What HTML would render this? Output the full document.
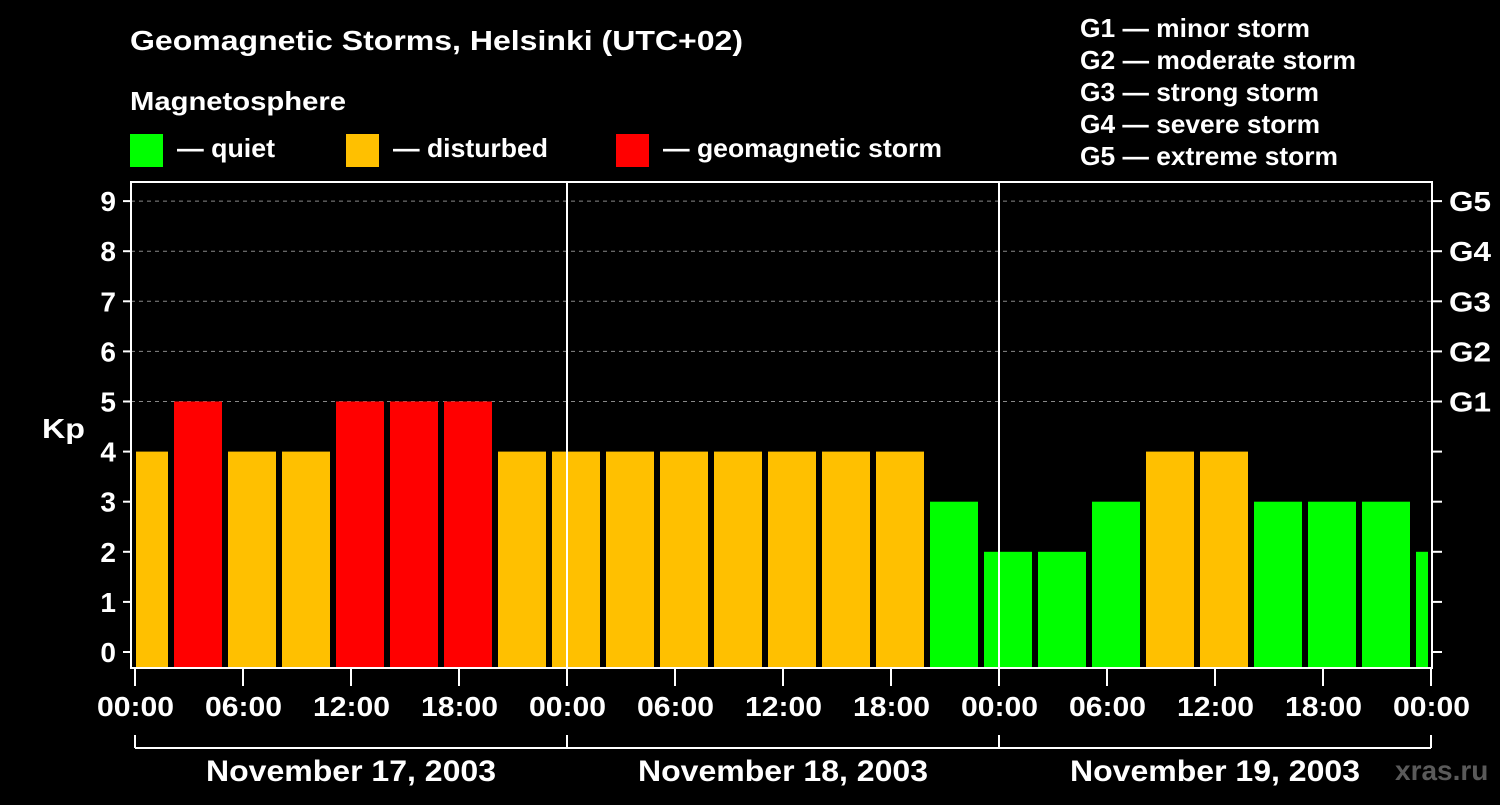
<!DOCTYPE html>
<html><head><meta charset="utf-8"><style>
body{margin:0;background:#000;}
svg text{font-family:"Liberation Sans",sans-serif;font-weight:bold;fill:#fff;}
</style></head><body>
<svg id="c" width="1500" height="800">
<rect width="1500" height="800" fill="#000"/>
<text x="130" y="50" font-size="28" textLength="613" lengthAdjust="spacingAndGlyphs">Geomagnetic Storms, Helsinki (UTC+02)</text>
<text x="130" y="110" font-size="26" textLength="216" lengthAdjust="spacingAndGlyphs">Magnetosphere</text>
<rect x="130" y="134" width="33" height="33" fill="#00ff00"/>
<text x="177" y="157" font-size="26" textLength="98" lengthAdjust="spacingAndGlyphs">— quiet</text>
<rect x="346" y="134" width="33" height="33" fill="#ffc000"/>
<text x="393" y="157" font-size="26" textLength="155" lengthAdjust="spacingAndGlyphs">— disturbed</text>
<rect x="616" y="134" width="33" height="33" fill="#ff0000"/>
<text x="663" y="157" font-size="26" textLength="279" lengthAdjust="spacingAndGlyphs">— geomagnetic storm</text>
<g font-size="26">
<text x="1080" y="37" textLength="230" lengthAdjust="spacingAndGlyphs">G1 — minor storm</text>
<text x="1080" y="69" textLength="276" lengthAdjust="spacingAndGlyphs">G2 — moderate storm</text>
<text x="1080" y="101" textLength="239" lengthAdjust="spacingAndGlyphs">G3 — strong storm</text>
<text x="1080" y="133" textLength="240" lengthAdjust="spacingAndGlyphs">G4 — severe storm</text>
<text x="1080" y="165" textLength="258" lengthAdjust="spacingAndGlyphs">G5 — extreme storm</text>
</g>
<text x="42" y="438" font-size="28" textLength="43" lengthAdjust="spacingAndGlyphs">Kp</text>
<g id="plot"></g>
<text x="1395" y="780" font-size="28" style="fill:#5a5a5a">xras.ru</text>
</svg>
<script>
const kpValues=[4,5,4,4,5,5,5,4,4,4,4,4,4,4,4,3,2,2,3,4,4,3,3,3,2];
const yTicks=[0,1,2,3,4,5,6,7,8,9];
const gLabels=["G1","G2","G3","G4","G5"];
const xTickLabels=["00:00","06:00","12:00","18:00","00:00","06:00","12:00","18:00","00:00","06:00","12:00","18:00","00:00"];
const dayLabels=["November 17, 2003","November 18, 2003","November 19, 2003"];
const NS="http://www.w3.org/2000/svg";
const g=document.getElementById('plot');
const X0=135,PXH=18,L=131,R=1432,T=182,B=668;
const xH=h=>X0+h*PXH;
const y=v=>652-50.1*v;
function mk(t,a,txt){const e=document.createElementNS(NS,t);for(const k in a)e.setAttribute(k,a[k]);if(txt!==undefined)e.textContent=txt;g.appendChild(e);return e;}
for(let v=5;v<=9;v++){const e=mk('line',{x1:L,x2:R,y1:y(v),y2:y(v),stroke:'#888','stroke-dasharray':'4,4','stroke-width':1});

}
kpValues.forEach((v,i)=>{let x1=xH(i*3)-15,x2=x1+48;x1=Math.max(x1,136);x2=Math.min(x2,1428);
const c=v>=5?'#ff0000':(v>=4?'#ffc000':'#00ff00');
const e=mk('rect',{x:x1,y:y(v),width:x2-x1,height:B-y(v),fill:c});

});
for(let d=1;d<=2;d++){const e=mk('line',{x1:xH(d*24),x2:xH(d*24),y1:T,y2:B,stroke:'#fff','stroke-width':2});

}
const f=mk('rect',{x:L,y:T,width:R-L,height:B-T,fill:'none',stroke:'#fff','stroke-width':2});


yTicks.forEach(v=>{mk('line',{x1:123,x2:L,y1:y(v),y2:y(v),stroke:'#fff','stroke-width':2});
mk('line',{x1:R,x2:1442,y1:y(v),y2:y(v),stroke:'#fff','stroke-width':2});
const t=mk('text',{x:116,y:y(v)+10,'font-size':28,'text-anchor':'end'},String(v));

});
gLabels.forEach((s,i)=>{const t=mk('text',{x:1449,y:y(5+i)+10,'font-size':28,textLength:42,lengthAdjust:'spacingAndGlyphs'},s);

});
xTickLabels.forEach((s,i)=>{const x=xH(i*6);mk('line',{x1:x,x2:x,y1:B,y2:686,stroke:'#fff','stroke-width':2});
const t=mk('text',{x:x-38,y:716,'font-size':28,textLength:77,lengthAdjust:'spacingAndGlyphs'},s);

});
mk('line',{x1:xH(0),x2:xH(72),y1:748,y2:748,stroke:'#fff','stroke-width':2});
for(let d=0;d<=3;d++)mk('line',{x1:xH(d*24),x2:xH(d*24),y1:735,y2:748,stroke:'#fff','stroke-width':2});
dayLabels.forEach((s,i)=>{const t=mk('text',{x:xH(i*24+12)-145,y:781,'font-size':30,textLength:290,lengthAdjust:'spacingAndGlyphs'},s);

});
</script>
</body></html>
